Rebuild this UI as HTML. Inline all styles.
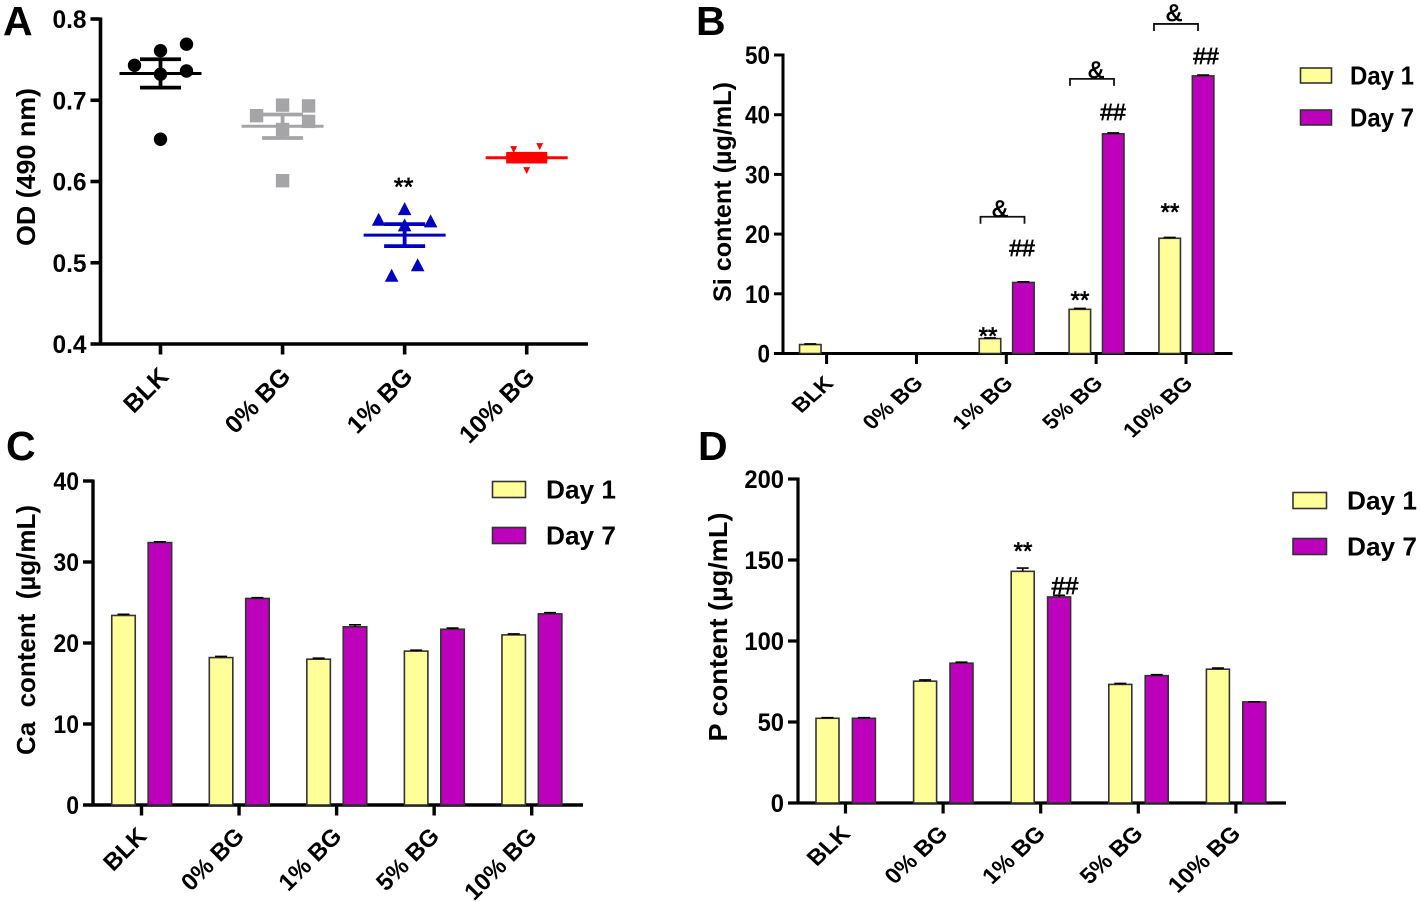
<!DOCTYPE html>
<html lang="en">
<head>
<meta charset="utf-8">
<title>Ion release and OD charts</title>
<style>
html,body{margin:0;padding:0;background:#fff;}
svg{display:block;}
text{font-family:"Liberation Sans",sans-serif;fill:#000;}
</style>
</head>
<body>
<svg id="figure" xmlns="http://www.w3.org/2000/svg" width="1420" height="902" viewBox="0 0 1420 902"></svg>
<script>
/* ---------- Panel A data ---------- */
const catsA = ['BLK', '0% BG', '1% BG', '10% BG'];
const ticksA = [0.4, 0.5, 0.6, 0.7, 0.8];
const pointsA = [
  [0.769, 0.761, 0.743, 0.736, 0.732, 0.652],
  [0.694, 0.693, 0.681, 0.674, 0.664, 0.601],
  [0.566, 0.553, 0.551, 0.546, 0.497, 0.484],
  [0.6394, 0.643, 0.6135, 0.628, 0.632, 0.630]
];
const swarmSlotsA = [
  [2, 0, -2, 2, 0, 0],
  [0, 2, -2, 2, 0, 0],
  [0, -2, 2, 0, 1, -1],
  [-1, 1, 0, 0, 0, 0]
];
const meansA = [0.733, 0.668, 0.534, 0.6293];
const semA = [0.0175, 0.0145, 0.0135, 0.0048];

/* ---------- Panel B data ---------- */
const catsB = ['BLK', '0% BG', '1% BG', '5% BG', '10% BG'];
const ticksB = [0, 10, 20, 30, 40, 50];
const day1B = [1.5, 0, 2.5, 7.4, 19.3];
const day7B = [0, 0, 11.9, 36.8, 46.5];
const err1B = [0.1, 0, 0.1, 0.15, 0.15];
const err7B = [0, 0, 0.12, 0.15, 0.15];

/* ---------- Panel C data ---------- */
const catsC = ['BLK', '0% BG', '1% BG', '5% BG', '10% BG'];
const ticksC = [0, 10, 20, 30, 40];
const day1C = [23.4, 18.2, 18.0, 19.0, 21.0];
const day7C = [32.4, 25.5, 22.0, 21.7, 23.6];
const err1C = [0.15, 0.15, 0.12, 0.12, 0.12];
const err7C = [0.1, 0.1, 0.25, 0.15, 0.15];

/* ---------- Panel D data ---------- */
const catsD = ['BLK', '0% BG', '1% BG', '5% BG', '10% BG'];
const ticksD = [0, 50, 100, 150, 200];
const day1D = [52.3, 75.2, 143, 73.2, 82.6];
const day7D = [52.3, 86.3, 127.2, 78.6, 62.4];
const err1D = [0.4, 0.8, 2, 0.6, 0.7];
const err7D = [0.4, 0.6, 1, 0.6, 0.1];

const YELLOW = '#FFFF99', MAGENTA = '#BC00BC', INK = '#000', EDGE = '#333';
const NS = 'http://www.w3.org/2000/svg';
const fig = document.getElementById('figure');

function mk(parent, tag, attrs, txt) {
  const el = document.createElementNS(NS, tag);
  for (const k in attrs) el.setAttribute(k, attrs[k]);
  if (txt !== undefined) el.textContent = txt;
  parent.appendChild(el);
  return el;
}
function linear(d0, d1, r0, r1) {
  return v => r0 + (v - d0) / (d1 - d0) * (r1 - r0);
}
function slug(s) {
  return s.toLowerCase().replace(/%/g, 'pct').replace(/\s+/g, '-');
}

function drawAxes(g, o) {
  const spine = mk(g, 'line', {x1: o.spineX, x2: o.spineX, y1: o.y(o.ticks[o.ticks.length - 1]) - 1.5, y2: o.y(o.ticks[0]) + 1.5, stroke: INK, 'stroke-width': o.sw});
  
  
  const base = mk(g, 'line', {x1: o.spineX - o.tickLen, x2: o.xEnd, y1: o.y(o.ticks[0]), y2: o.y(o.ticks[0]), stroke: INK, 'stroke-width': o.sw});
  
  
  o.ticks.forEach(t => {
    const py = o.y(t);
    if (t !== o.ticks[0]) {
      const tk = mk(g, 'line', {x1: o.spineX - o.tickLen, x2: o.spineX, y1: py, y2: py, stroke: INK, 'stroke-width': o.sw});
      
      
    }
    const lx = o.spineX - o.tickLen - 4;
    const lab = mk(g, 'text', {transform: `translate(${lx},${py + 9}) scale(${o.tickSx},1)`, 'text-anchor': 'end', 'font-size': 25, 'font-weight': 700}, o.fmt(t));
    
    
  });
  o.cats.forEach((c, i) => {
    const px = o.x(i), py = o.y(o.ticks[0]);
    const tk = mk(g, 'line', {x1: px, x2: px, y1: py, y2: py + 10.5, stroke: INK, 'stroke-width': o.sw});
    
    
    const lab = mk(g, 'text', {transform: `translate(${px + o.labDx},${py + o.labDy}) scale(1,${o.labSy}) rotate(-45)`, 'text-anchor': 'end', 'font-size': o.labFs, 'font-weight': 700}, c);
    
    
  });
  const tt = mk(g, 'text', {transform: `translate(${o.titleX},${o.titleY}) rotate(-90)`, 'text-anchor': 'middle', 'font-size': o.titleFs, 'font-weight': 700, textLength: o.titleLen, lengthAdjust: 'spacingAndGlyphs', style: 'white-space:pre'}, o.title);
  
  
}

function drawBars(g, o) {
  [[o.day1, o.err1, o.off1, YELLOW, 'day-1'], [o.day7, o.err7, o.off7, MAGENTA, 'day-7']].forEach(s => {
    s[0].forEach((v, i) => {
      if (v <= 0) return;
      const cx = o.x(i) + s[2], top = o.y(v), bottom = o.y(0);
      const bar = mk(g, 'rect', {x: cx - o.barW / 2, y: top, width: o.barW, height: bottom - top, fill: s[3], stroke: EDGE, 'stroke-width': 1.6});
      
      
      const ey = o.y(v + s[1][i]);
      const err = mk(g, 'path', {d: `M${cx - 6} ${ey}H${cx + 6}M${cx} ${ey}V${top}`, stroke: '#000', 'stroke-width': 1.6, fill: 'none'});
      
      
    });
  });
}

function drawLegend(g, o) {
  [['Day 1', YELLOW, o.y1], ['Day 7', MAGENTA, o.y2]].forEach(e => {
    const sw = mk(g, 'rect', {x: o.x, y: e[2], width: o.w, height: o.h, fill: e[1], stroke: EDGE, 'stroke-width': 1.6});
    
    
    const t = mk(g, 'text', {x: o.tx, y: e[2] + o.h / 2 + 9, 'font-size': 26, 'font-weight': 700, textLength: o.tw, lengthAdjust: 'spacingAndGlyphs'}, e[0]);
    
    
  });
}

function note(g, txt, x, y, fs, name) {
  const t = mk(g, 'text', {x: x, y: y, 'text-anchor': 'middle', 'font-size': fs, 'font-weight': 400, stroke: '#000', 'stroke-width': 0.7}, txt);
  
  
}

function bracket(g, x1, x2, yy) {
  const b = mk(g, 'path', {d: `M${x1} ${yy + 7}V${yy}H${x2}V${yy + 7}`, fill: 'none', stroke: '#111', 'stroke-width': 1.8});
  
  
}

function panelLetter(txt, x, y) {
  const t = mk(fig, 'text', {x: x, y: y, 'font-size': 41, 'font-weight': 700}, txt);
  
  
}

/* ---------- Panel A ---------- */
(function () {
  const g = mk(fig, 'g', {});
  
  
  const x = i => 160.5 + 122.07 * i;
  const y = linear(0.4, 0.8, 344, 19);
  const colors = ['#000000', '#A5A5A8', '#0000BE', '#FF0000'];
  const slotPx = 13;
  drawAxes(g, {spineX: 100.5, xEnd: 588, ticks: ticksA, cats: catsA, x: x, y: y, sw: 3.6, tickLen: 10, tickSx: 0.98, fmt: v => v.toFixed(1), labDx: 9.5, labDy: 34, labSy: 1, labFs: 25, title: 'OD (490 nm)', titleX: 35, titleY: 167, titleFs: 26, titleLen: 158});
  pointsA.forEach((arr, gi) => {
    const c = colors[gi];
    arr.forEach((v, pi) => {
      const px = x(gi) + swarmSlotsA[gi][pi] * slotPx, py = y(v);
      let m;
      if (gi === 0) m = mk(g, 'circle', {cx: px, cy: py, r: 6.7, fill: c});
      else if (gi === 1) m = mk(g, 'rect', {x: px - 6.7, y: py - 6.7, width: 13.4, height: 13.4, fill: c});
      else if (gi === 2) m = mk(g, 'path', {d: `M${px} ${py - 7}L${px + 6.8} ${py + 6}H${px - 6.8}Z`, fill: c});
      else m = mk(g, 'path', {d: `M${px - 3.4} ${py - 3.4}H${px + 3.4}L${px} ${py + 3.6}Z`, fill: c});
      
      
    });
    const cx = x(gi), my = y(meansA[gi]), hi = y(meansA[gi] + semA[gi]), lo = y(meansA[gi] - semA[gi]);
    const eb = mk(g, 'path', {d: `M${cx - 20.5} ${hi}H${cx + 20.5}M${cx - 20.5} ${lo}H${cx + 20.5}M${cx} ${hi}V${lo}`, fill: 'none', stroke: c, 'stroke-width': 3.8});
    
    
    if (gi === 3) {
      const band = mk(g, 'rect', {x: cx - 20.5, y: hi, width: 41, height: lo - hi, fill: c});
      
      
    }
    const mean = mk(g, 'line', {x1: cx - 41, x2: cx + 41, y1: my, y2: my, stroke: c, 'stroke-width': 3});
    
    
  });
  note(g, '**', x(2) - 1, y(0.6) + 14, 25, 'significance-stars-1pct-bg');
})();

/* ---------- Panel B ---------- */
(function () {
  const g = mk(fig, 'g', {});
  
  
  const x = i => 826.6 + 89.85 * i;
  const y = linear(0, 50, 353.5, 55);
  drawAxes(g, {spineX: 783, xEnd: 1232.5, ticks: ticksB, cats: catsB, x: x, y: y, sw: 3, tickLen: 9, tickSx: 0.9, fmt: v => String(v), labDx: 8, labDy: 31, labSy: 0.88, labFs: 23, title: 'Si content (µg/mL)', titleX: 731, titleY: 192, titleFs: 25, titleLen: 220});
  drawBars(g, {day1: day1B, day7: day7B, err1: err1B, err7: err7B, cats: catsB, x: x, y: y, off1: -16.3, off7: 17.1, barW: 21.5});
  bracket(g, 980.5, 1024.5, y(22.9));
  bracket(g, 1070, 1114, y(46));
  bracket(g, 1154, 1198, y(55.2));
  note(g, '&', 1000, 217, 24, 'and-marker-1pct-bg');
  note(g, '&', 1096, 78, 24, 'and-marker-5pct-bg');
  note(g, '&', 1174, 21, 24, 'and-marker-10pct-bg');
  note(g, '##', 1022, 256, 23, 'hash-marker-1pct-bg');
  note(g, '##', 1113, 120, 23, 'hash-marker-5pct-bg');
  note(g, '##', 1206, 64, 23, 'hash-marker-10pct-bg');
  note(g, '**', 988, 344, 24, 'stars-1pct-bg');
  note(g, '**', 1080, 308, 24, 'stars-5pct-bg');
  note(g, '**', 1170, 220, 24, 'stars-10pct-bg');
  drawLegend(g, {x: 1300.5, y1: 68, y2: 110, w: 31, h: 15, tx: 1350, tw: 64});
})();

/* ---------- Panel C ---------- */
(function () {
  const g = mk(fig, 'g', {});
  
  
  const x = i => 141.5 + 97.55 * i;
  const y = linear(0, 40, 805, 481);
  drawAxes(g, {spineX: 93, xEnd: 583, ticks: ticksC, cats: catsC, x: x, y: y, sw: 3.4, tickLen: 10, tickSx: 0.92, fmt: v => String(v), labDx: 6.5, labDy: 32.5, labSy: 1, labFs: 24, title: 'Ca  content  (µg/mL)', titleX: 35, titleY: 630, titleFs: 26, titleLen: 250});
  drawBars(g, {day1: day1C, day7: day7C, err1: err1C, err7: err7C, cats: catsC, x: x, y: y, off1: -18, off7: 18.4, barW: 23.5});
  drawLegend(g, {x: 492.5, y1: 481.5, y2: 527.5, w: 33, h: 16, tx: 546, tw: 70});
})();

/* ---------- Panel D ---------- */
(function () {
  const g = mk(fig, 'g', {});
  
  
  const x = i => 845.5 + 97.6 * i;
  const y = linear(0, 200, 803, 479);
  drawAxes(g, {spineX: 798, xEnd: 1286, ticks: ticksD, cats: catsD, x: x, y: y, sw: 3.2, tickLen: 10, tickSx: 0.95, fmt: v => String(v), labDx: 6, labDy: 32, labSy: 0.92, labFs: 24, title: 'P content (µg/mL)', titleX: 727, titleY: 627, titleFs: 26, titleLen: 229});
  drawBars(g, {day1: day1D, day7: day7D, err1: err1D, err7: err7D, cats: catsD, x: x, y: y, off1: -18, off7: 18.4, barW: 23});
  note(g, '**', 1023, 559, 24, 'stars-1pct-bg');
  note(g, '##', 1065, 594, 24, 'hash-marker-1pct-bg');
  drawLegend(g, {x: 1293, y1: 492.5, y2: 538.5, w: 33.5, h: 16, tx: 1347, tw: 70});
})();

panelLetter('A', 3, 35);
panelLetter('B', 696, 35);
panelLetter('C', 6, 460);
panelLetter('D', 698, 460);
</script>
</body>
</html>
